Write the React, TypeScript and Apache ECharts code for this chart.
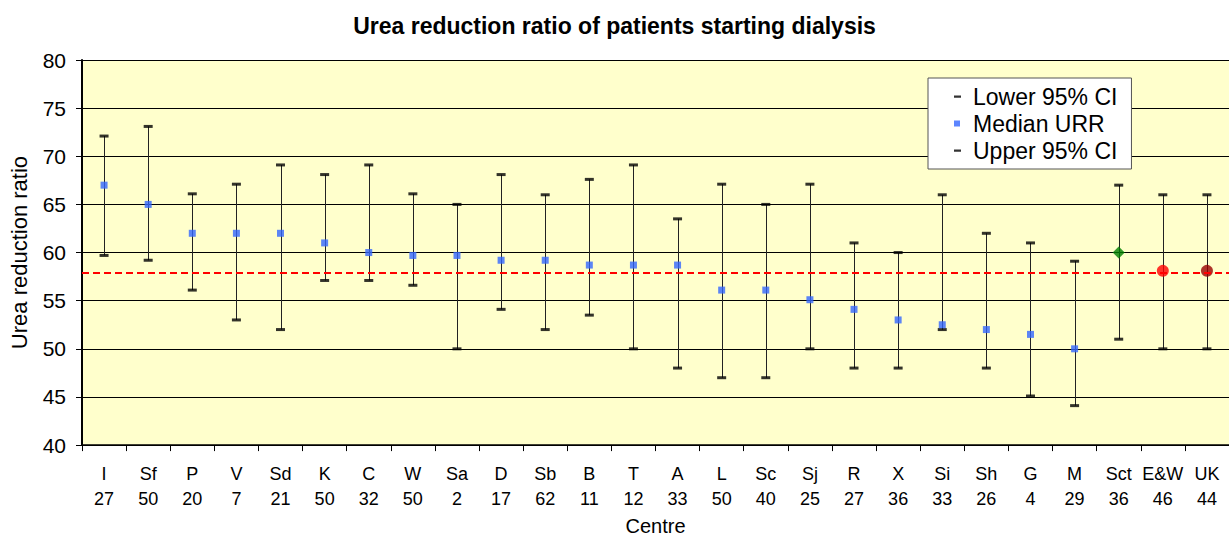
import React, { useEffect, useRef } from "react";
import * as echarts from "echarts";

const centres = ["I", "Sf", "P", "V", "Sd", "K", "C", "W", "Sa", "D", "Sb", "B", "T", "A", "L", "Sc", "Sj", "R", "X", "Si", "Sh", "G", "M", "Sct", "E&W", "UK"];
const counts = [27, 50, 20, 7, 21, 50, 32, 50, 2, 17, 62, 11, 12, 33, 50, 40, 25, 27, 36, 33, 26, 4, 29, 36, 46, 44];
const medianURR = [67, 65, 62, 62, 62, 61, 60, 59.7, 59.7, 59.2, 59.2, 58.7, 58.7, 58.7, 56.1, 56.1, 55.1, 54.1, 53, 52.5, 52, 51.5, 50, 60, 58.1, 58.1];
const lowerCI = [59.7, 59.2, 56.1, 53, 52, 57.1, 57.1, 56.6, 50, 54.1, 52, 53.5, 50, 48, 47, 47, 50, 48, 48, 52, 48, 45.1, 44.1, 51, 50, 50];
const upperCI = [72.1, 73.1, 66.1, 67.1, 69.1, 68.1, 69.1, 66.1, 65, 68.1, 66, 67.6, 69.1, 63.5, 67.1, 65, 67.1, 61, 60, 66, 62, 61, 59.1, 67, 66, 66];
const ukAverage = 57.9;
const yTicks = { min: 40, max: 80, interval: 5 };

const FONT = "'Liberation Sans', Arial, sans-serif";
const DASH_ICON = "path://M0,3h7v2.2h-7z M0,0h0.01v0.01h-0.01z M13.99,7.99h0.01v0.01h-0.01z";
const SQUARE_ICON = "path://M0,1h6v6h-6z M0,0h0.01v0.01h-0.01z M13.99,7.99h0.01v0.01h-0.01z";

const specialMarkers: Record<string, { symbol: string; size: number; color: string }> = {
  Sct: { symbol: "diamond", size: 12, color: "#008000" },
  "E&W": { symbol: "circle", size: 12, color: "#FF0000" },
  UK: { symbol: "circle", size: 12, color: "#990000" },
};

export default function App() {
  const ref = useRef<HTMLDivElement>(null);
  useEffect(() => {
    if (!ref.current) return;
    const chart = echarts.init(ref.current, null, { renderer: "svg" });
    const medianData = medianURR.map((v, i) => {
      const sp = specialMarkers[centres[i]];
      if (!sp) return v;
      return { value: v, symbol: sp.symbol, symbolSize: sp.size, itemStyle: { color: sp.color } };
    });
    chart.setOption({
      animation: false,
      backgroundColor: "#ffffff",
      title: {
        text: "Urea reduction ratio of patients starting dialysis",
        left: "center",
        top: 9,
        textStyle: { fontFamily: FONT, fontSize: 23, fontWeight: "bold", color: "#000" },
      },
      legend: {
        orient: "vertical",
        left: 928,
        top: 78,
        backgroundColor: "#ffffff",
        borderColor: "#555555",
        borderWidth: 1,
        borderRadius: 0,
        padding: [7, 14, 7, 26],
        itemWidth: 14,
        itemHeight: 8,
        itemGap: 4,
        textStyle: { fontFamily: FONT, fontSize: 23, color: "#000", lineHeight: 23 },
        data: [
          { name: "Lower 95% CI", icon: DASH_ICON, itemStyle: { color: "#000" } },
          { name: "Median URR", icon: SQUARE_ICON, itemStyle: { color: "#3366FF" } },
          { name: "Upper 95% CI", icon: DASH_ICON, itemStyle: { color: "#000" } },
        ],
      },
      grid: {
        left: 82,
        right: 0,
        top: 60,
        bottom: 86,
        show: true,
        backgroundColor: "#FFFFCC",
        borderWidth: 0,
      },
      xAxis: {
        type: "category",
        data: centres.map((c, i) => `${c}\n${counts[i]}`),
        boundaryGap: true,
        axisLine: { lineStyle: { color: "#000", width: 1.5 } },
        axisTick: { show: true, length: 6, lineStyle: { color: "#000" } },
        axisLabel: { fontFamily: FONT, fontSize: 18, color: "#000", margin: 16, lineHeight: 25, interval: 0 },
        name: "Centre",
        nameLocation: "middle",
        nameGap: 70,
        nameTextStyle: { fontFamily: FONT, fontSize: 20, color: "#000" },
      },
      yAxis: {
        type: "value",
        min: yTicks.min,
        max: yTicks.max,
        interval: yTicks.interval,
        axisLine: { show: true, lineStyle: { color: "#000", width: 2 } },
        axisTick: { show: true, length: 6, lineStyle: { color: "#000" } },
        splitLine: { show: true, lineStyle: { color: "#000", width: 1 } },
        axisLabel: { fontFamily: FONT, fontSize: 21, color: "#000", margin: 16 },
        name: "Urea reduction ratio",
        nameLocation: "middle",
        nameGap: 52,
        nameRotate: 90,
        nameTextStyle: { fontFamily: FONT, fontSize: 22, color: "#000" },
      },
      series: [
        {
          type: "custom",
          name: "ci",
          silent: true,
          data: centres.map((_, i) => [i, lowerCI[i], upperCI[i]]),
          encode: { x: 0, y: [1, 2] },
          renderItem: (params: any, api: any) => {
            const p1 = api.coord([api.value(0), api.value(1)]);
            const p2 = api.coord([api.value(0), api.value(2)]);
            return {
              type: "line",
              shape: { x1: Math.round(p1[0]) + 0.5, y1: p1[1], x2: Math.round(p2[0]) + 0.5, y2: p2[1] },
              style: { stroke: "#222", lineWidth: 1 },
            };
          },
          z: 2,
        },
        {
          type: "scatter",
          name: "Lower 95% CI",
          data: lowerCI,
          symbol: "rect",
          symbolSize: [9, 3],
          itemStyle: { color: "#000" },
          z: 3,
        },
        {
          type: "scatter",
          name: "Upper 95% CI",
          data: upperCI,
          symbol: "rect",
          symbolSize: [9, 3],
          itemStyle: { color: "#000" },
          z: 3,
        },
        {
          type: "scatter",
          name: "Median URR",
          data: medianData,
          symbol: "rect",
          symbolSize: 7,
          itemStyle: { color: "#3366FF" },
          z: 4,
          markLine: {
            silent: true,
            symbol: "none",
            label: { show: false },
            lineStyle: { color: "#FF0000", type: [7, 4], width: 2 },
            data: [{ yAxis: ukAverage }],
            z: 5,
          },
        },
      ],
    });
    return () => chart.dispose();
  }, []);
  return (
    <div
      ref={ref}
      style={{ position: "absolute", left: 0, top: 0, width: 1229, height: 541 }}
    />
  );
}
